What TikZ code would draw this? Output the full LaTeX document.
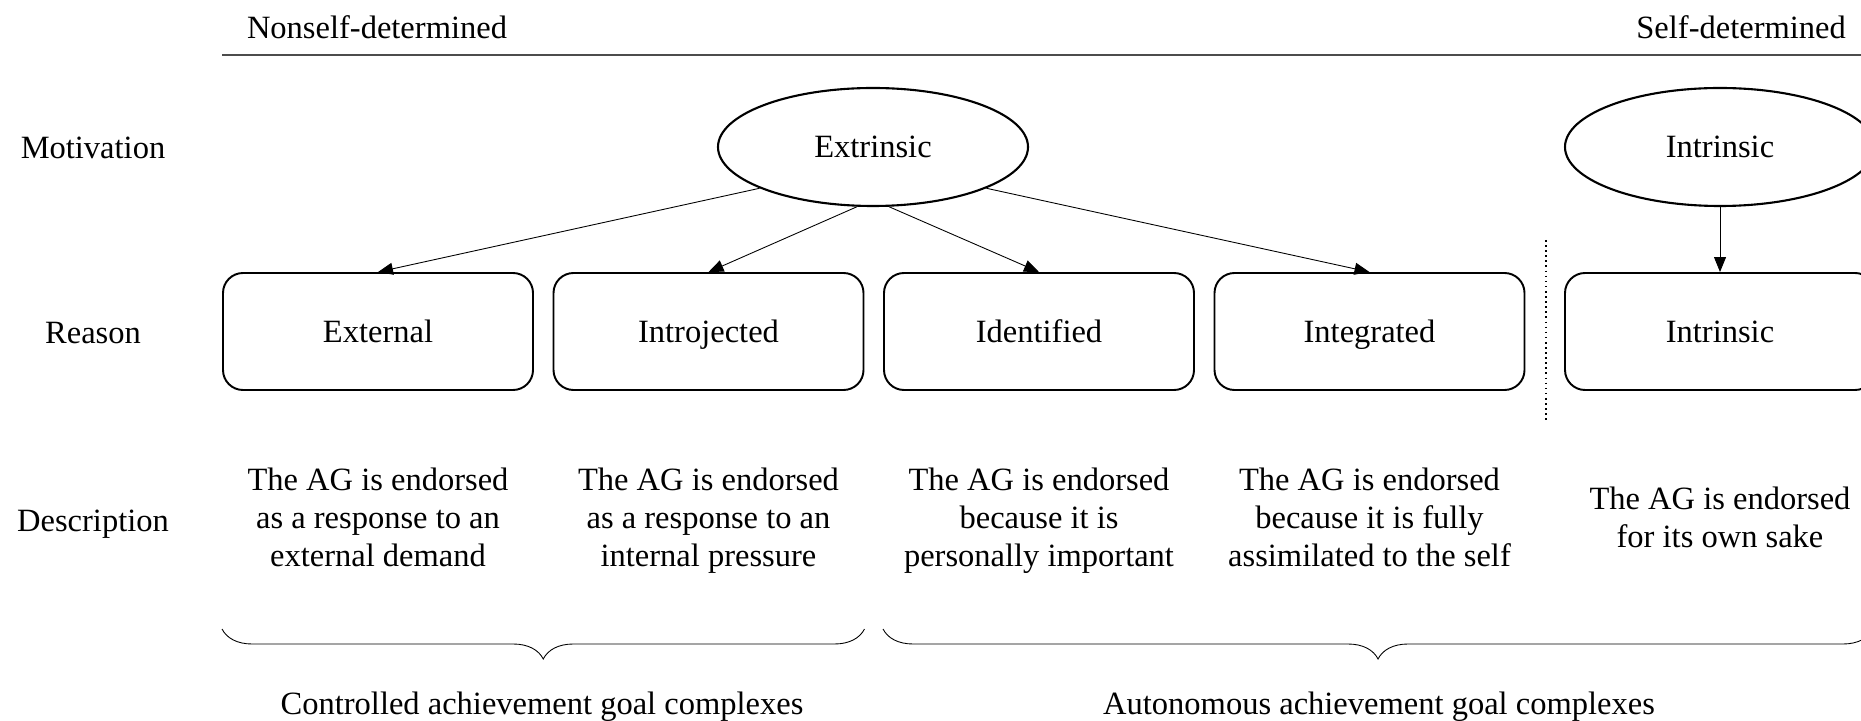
\documentclass[tikz,border=0pt]{standalone}
\usepackage{fontspec}
\setmainfont{Liberation Serif}
\usetikzlibrary{shapes.geometric,arrows.meta,decorations.pathreplacing}
\newcommand{\mystrut}{\rule[-0.25em]{0pt}{1.16em}}

\begin{document}
\begin{tikzpicture}[
  every node/.style={font=\fontsize{18.5}{21.6}\selectfont,
    execute at begin node=\mystrut,execute at end node=\mystrut},
  motiv/.style={ellipse,draw,line width=1.2pt,minimum width=6.2cm,minimum height=2.36cm,inner sep=0pt},
  reasonbox/.style={draw,line width=1.1pt,rounded corners=0.4cm,minimum width=6.2cm,minimum height=2.34cm},
  desc/.style={align=center},
  link/.style={-{Triangle[length=0.3cm,width=0.24cm]},line width=0.5pt},
  bracedown/.style={decorate,decoration={brace,mirror,amplitude=0.6cm},line width=0.5pt}]
  \useasboundingbox (0,0) rectangle (37.22,14.4);
  \clip (0,0) rectangle (37.22,14.4);

  % scale at the top
  \node (nonself) at (7.54,13.84) {Nonself-determined};
  \node[anchor=east] (self) at (37.04,13.84) {Self-determined};
  \coordinate (topl) at (4.44,13.3);
  \coordinate (topr) at (37.22,13.3);
  \draw[black!70,line width=0.7pt] (topl) -- (topr);

  % row labels
  \node (lmot) at (1.86,11.44) {Motivation};
  \node (lrea) at (1.86,7.74) {Reason};
  \node (ldes) at (1.86,3.99) {Description};

  \node[motiv] (extr) at (17.46,11.46) {Extrinsic};
  \node[motiv] (intr) at (34.4,11.46) {Intrinsic};

  \foreach \n/\x/\t in {rext/7.56/External, rintro/14.17/Introjected, riden/20.78/Identified,
                        rinteg/27.39/Integrated, rintr/34.4/Intrinsic}
    \node[reasonbox] (\n) at (\x,7.77) {\t};

  \draw[link] (extr.200) -- (rext.north);
  \draw[link] (extr.255) -- (rintro.north);
  \draw[link] (extr.285) -- (riden.north);
  \draw[link] (extr.340) -- (rinteg.north);
  \draw[link] (intr) -- (rintr);

  \coordinate (sept) at (30.92,9.6);
  \coordinate (sepb) at (30.92,5.98);
  \draw[dotted,line width=0.9pt] (sept) -- (sepb);

  \node[desc] (dext) at (7.56,3.97) {The AG is endorsed\\as a response to an\\external demand};
  \node[desc] (dintro) at (14.17,3.97) {The AG is endorsed\\as a response to an\\internal pressure};
  \node[desc] (diden) at (20.78,3.97) {The AG is endorsed\\because it is\\personally important};
  \node[desc] (dinteg) at (27.39,3.97) {The AG is endorsed\\because it is fully\\assimilated to the self};
  \node[desc] (dintr) at (34.4,3.97) {The AG is endorsed\\for its own sake};

  % braces
  \coordinate (bry) at (0,1.82);
  \coordinate (brend) at (37.46,1.82);
  \draw[bracedown] (rext.west |- bry) -- (rintro.east |- bry);
  \draw[bracedown] (riden.west |- bry) -- (brend);
  \node (ctrl) at (10.84,0.32) {Controlled achievement goal complexes};
  \node (auto) at (27.58,0.32) {Autonomous achievement goal complexes};
\end{tikzpicture}
\end{document}
